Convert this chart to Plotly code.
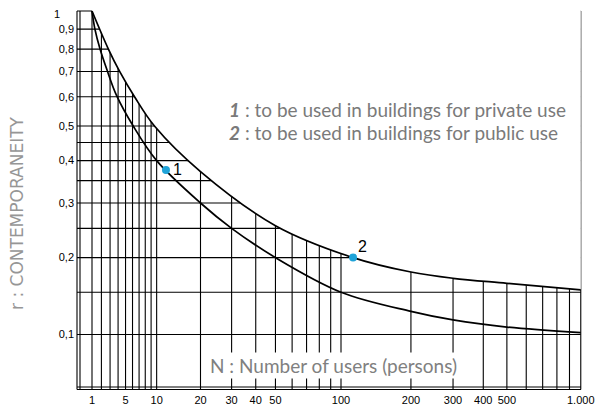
import numpy as np
import plotly.graph_objects as go

# ---------------- data ----------------
# curve 1 : private use (lower curve)
N_private = [1, 1.3, 1.85, 2.6, 3.8, 6.1, 10, 20, 30, 50, 100, 200, 300, 500, 1000]
r_private = [1, 0.9, 0.8, 0.71, 0.605, 0.5, 0.4, 0.3, 0.25, 0.2, 0.15, 0.126, 0.116, 0.108, 0.102]
# curve 2 : public use (upper curve)
N_public = [1, 2.8, 4.2, 6.3, 9.6, 20, 50, 113, 200, 300, 500, 1000]
r_public = [1, 0.8, 0.7, 0.6, 0.5, 0.372, 0.255, 0.2, 0.178, 0.169, 0.162, 0.153]

marker_N = [11.8, 113]
marker_r = [0.376, 0.2]
marker_labels = ["1", "2"]

x_tick_vals = [1, 5, 10, 20, 30, 40, 50, 100, 200, 300, 400, 500, 1000]
x_tick_text = ["1", "5", "10", "20", "30", "40", "50", "100", "200", "300", "400", "500", "1.000"]
y_tick_vals = [0.9, 0.8, 0.7, 0.6, 0.5, 0.4, 0.3, 0.2, 0.1]
y_tick_text = ["0,9", "0,8", "0,7", "0,6", "0,5", "0,4", "0,3", "0,2", "0,1"]
y_top_val, y_top_text = 1, "1"

grid_N = [1, 2, 3, 4, 5, 6, 7, 8, 9, 10, 20, 30, 40, 50, 60, 70, 80, 90, 100,
          200, 300, 400, 500, 600, 700, 800, 900, 1000]
grid_r = [1, 0.9, 0.8, 0.7, 0.6, 0.5, 0.45, 0.4, 0.35, 0.3, 0.25, 0.2, 0.15, 0.1]

legend_lines = ["<b><i>1</i></b> : to be used in buildings for private use",
                "<b><i>2</i></b> : to be used in buildings for public use"]
x_title = "N : Number of users (persons)"
y_title = "r : CONTEMPORANEITY"

# ---------------- scale (chart's warped log scales) ----------------
def fx(N):
    return np.log10(np.asarray(N, dtype=float) + 10)

def fy(r):
    return np.log10(np.asarray(r, dtype=float) + 0.1)

# screen-pixel anchors of the scales
PX0, U0, KX = 92.0, np.log10(11), 249.0
PY0, V0, KY = 11.0, np.log10(1.1), 437.0

def u_at(px):
    return U0 + (px - PX0) / KX

def v_at(py):
    return V0 - (py - PY0) / KY

OFF = 8                     # page body margin
W, H = 606 - OFF, 405 - OFF
PL, PR, PT, PB = 75, 590, 9, 391          # plot area in screen pixels
L, R_, T, B = PL - OFF, W - (PR - OFF), PT - OFF, H - (PB - OFF)
x_range = [u_at(PL), u_at(PR)]
y_range = [v_at(PB), v_at(PT)]

def paper_x(sx):
    return (sx - PL) / (PR - PL)

def paper_y(sy):
    return (PB - sy) / (PB - PT)

GRID = dict(color="black", width=1.1)
shapes = []
v_bot = v_at(389.5)
v_top_grid = float(fy(1))
u_left = u_at(77)
u_end = float(fx(1000))
for n in grid_N:
    shapes.append(dict(type="line", xref="x", yref="y", layer="below",
                       x0=float(fx(n)), x1=float(fx(n)), y0=v_bot, y1=v_top_grid, line=GRID))
for r in grid_r:
    shapes.append(dict(type="line", xref="x", yref="y", layer="below",
                       x0=u_left, x1=u_end, y0=float(fy(r)), y1=float(fy(r)), line=GRID))
for px in (77, 80):
    shapes.append(dict(type="line", xref="x", yref="y", layer="below",
                       x0=u_at(px), x1=u_at(px), y0=v_bot, y1=v_top_grid, line=GRID))
for py in (387, 389.5):
    shapes.append(dict(type="line", xref="x", yref="y", layer="below",
                       x0=u_left, x1=u_at(581), y0=v_at(py), y1=v_at(py), line=GRID))

fig = go.Figure()
# top boundary for the white mask above the public-use curve
fig.add_trace(go.Scatter(x=[float(fx(1)), u_end], y=[y_range[1], y_range[1]],
                         mode="lines", line=dict(width=0, color="white"),
                         hoverinfo="skip", showlegend=False))
fig.add_trace(go.Scatter(x=fx(N_public), y=fy(r_public), mode="lines",
                         line=dict(color="black", width=1.7, shape="spline"),
                         fill="tonexty", fillcolor="white", showlegend=False))
fig.add_trace(go.Scatter(x=fx(N_private), y=fy(r_private), mode="lines",
                         line=dict(color="black", width=1.7, shape="spline"),
                         showlegend=False))
fig.add_trace(go.Scatter(x=fx(marker_N), y=fy(marker_r), mode="markers",
                         marker=dict(color="#1fa3d8", size=8),
                         showlegend=False))

GRAY_FONT = "Lato"
annotations = []
# marker labels
for (n, r, lab, xs, ys) in zip(marker_N, marker_r, marker_labels, [12, 9], [0, 11]):
    annotations.append(dict(x=float(fx(n)), y=float(fy(r)), xref="x", yref="y", text=lab,
                            showarrow=False, xanchor="center", yanchor="middle",
                            xshift=xs, yshift=ys,
                            font=dict(family="Liberation Sans", size=16, color="black")))
# top "1" tick label (kept inside the page)
annotations.append(dict(x=paper_x(52), y=float(fy(y_top_val)), xref="paper", yref="y",
                        text=y_top_text, showarrow=False, xanchor="left", yanchor="middle",
                        yshift=-3, font=dict(family="Liberation Sans", size=11, color="black")))
for i, txt in enumerate(legend_lines):
    annotations.append(dict(x=u_at(227), y=v_at(109 + 23 * i), xref="x", yref="y",
                            text=txt, showarrow=False, xanchor="left", yanchor="middle",
                            font=dict(family=GRAY_FONT, size=19, color="#7a7a7a")))
annotations.append(dict(x=u_at(208), y=v_at(365), xref="x", yref="y", text=x_title,
                        showarrow=False, xanchor="left", yanchor="middle",
                        bgcolor="white", borderpad=1,
                        font=dict(family=GRAY_FONT, size=19, color="#808080")))
annotations.append(dict(x=paper_x(17), y=paper_y(213), xref="paper", yref="paper",
                        text=y_title, textangle=-90,
                        showarrow=False, xanchor="center", yanchor="middle",
                        font=dict(family="DejaVu Sans", size=17, color="#969696")))

fig.update_layout(
    width=W, height=H, margin=dict(l=L, r=R_, t=T, b=B, autoexpand=False),
    paper_bgcolor="white", plot_bgcolor="white",
    shapes=shapes, annotations=annotations, showlegend=False,
    xaxis=dict(range=x_range, showgrid=False, zeroline=False, showline=False,
               automargin=False, fixedrange=True, ticklabelstandoff=1,
               tickvals=list(fx(x_tick_vals)), ticktext=x_tick_text, ticks="",
               tickfont=dict(family="Liberation Sans", size=11, color="black")),
    yaxis=dict(range=y_range, showgrid=False, zeroline=False, showline=False,
               automargin=False, fixedrange=True,
               tickvals=list(fy(y_tick_vals)), ticktext=y_tick_text, ticks="",
               tickfont=dict(family="Liberation Sans", size=11, color="black")),
)
fig.write_html("out.html")
